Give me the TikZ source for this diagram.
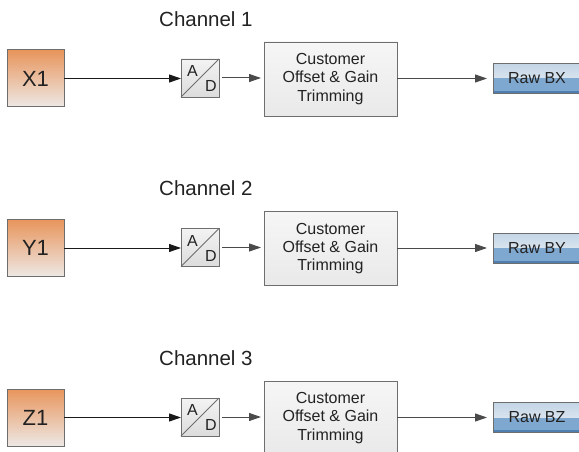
\documentclass[tikz,border=0pt]{standalone}
\usepackage{fontspec}
\setmainfont{Liberation Sans}
\usetikzlibrary{arrows.meta,calc}

\definecolor{edgegray}{HTML}{6E6E6E}
\definecolor{linegray}{HTML}{4A4A4A}
\definecolor{txt}{HTML}{222222}
\definecolor{orgtop}{HTML}{E8955C}
\definecolor{orgbot}{HTML}{EDE8E5}
\definecolor{adtop}{HTML}{F3F3F3}
\definecolor{adbot}{HTML}{DCDCDC}
\definecolor{cutop}{HTML}{F6F6F6}
\definecolor{cubot}{HTML}{E9E9E9}
\definecolor{rawtop}{HTML}{C3D5E6}
\definecolor{rawmid}{HTML}{EEF2F6}
\definecolor{rawlow}{HTML}{7FA8D0}
\definecolor{rawedge}{HTML}{4F7FB0}

\tikzset{
  chan/.style={font=\fontsize{20.5}{24}\selectfont, text=txt, inner sep=0pt, anchor=west},
  inbox/.style={draw=edgegray, line width=1pt, minimum width=57pt, minimum height=57pt,
    top color=orgtop, bottom color=orgbot, inner sep=0pt, outer sep=0pt, text=txt,
    font=\fontsize{22}{26}\selectfont},
  adbox/.style={draw=edgegray, line width=0.9pt, minimum width=38pt, minimum height=38pt,
    top color=adtop, bottom color=adbot, inner sep=0pt, outer sep=0pt},
  adtxt/.style={font=\fontsize{16}{18}\selectfont, text=txt, inner sep=0pt},
  cubox/.style={draw=edgegray, line width=0.9pt, minimum width=133pt, minimum height=74pt,
    top color=cutop, bottom color=cubot, inner sep=0pt, outer sep=0pt, align=center, text=txt,
    font=\fontsize{16}{18.3}\selectfont},
  rawbox/.style={draw=edgegray, line width=0.8pt, minimum width=88pt, minimum height=30pt,
    inner sep=0pt, outer sep=0pt, text=txt, font=\fontsize{16}{18}\selectfont,
    path picture={
      \shade[top color=rawtop, bottom color=rawmid]
        (path picture bounding box.north west) rectangle (path picture bounding box.east);
      \fill[rawlow]
        (path picture bounding box.west) rectangle (path picture bounding box.south east);
      \fill[rawedge]
        ($(path picture bounding box.south west)+(0,-2.5)$) rectangle (path picture bounding box.south east);
    }},
  arr/.style={draw=linegray, line width=1pt, -{Triangle[length=12pt,width=8pt]}},
}

\begin{document}
\begin{tikzpicture}[x=1pt,y=-1pt]
\useasboundingbox (0,0) rectangle (579,452);

\foreach \i/\lab/\raw in {1/X1/Raw BX,2/Y1/Raw BY,3/Z1/Raw BZ}{
  \pgfmathsetmacro{\yy}{(\i-1)*169.5}
  % channel title
  \node[chan] (ch\i) at (159, 19+\yy) {Channel \i};
  % sensor input
  \node[inbox] (in\i) at (35.5, 78.5+\yy) {\lab};
  % A/D converter
  \node[adbox] (ad\i) at (200, 78+\yy) {};
  \draw[edgegray, line width=0.9pt] (ad\i.south west) -- (ad\i.north east);
  \node[adtxt] (adA\i) at (192.5, 71+\yy) {A};
  \node[adtxt] (adD\i) at (211, 86+\yy) {D};
  % trimming stage
  \node[cubox] (cu\i) at (330.5, 79+\yy) {Customer\\Offset \& Gain\\Trimming};
  % output register
  \node[rawbox] (raw\i) at (537, 78.5+\yy) {\raw};
  % signal flow
  \draw[arr, draw=black!90, fill=black] (in\i.east) -- (in\i.east -| ad\i.west);
  \draw[arr] ([xshift=3pt]ad\i.east) -- ([xshift=-3pt]ad\i.east -| cu\i.west);
  \draw[arr] (cu\i.east |- raw\i.west) -- ([xshift=-6pt]raw\i.west);
}
\end{tikzpicture}
\end{document}
